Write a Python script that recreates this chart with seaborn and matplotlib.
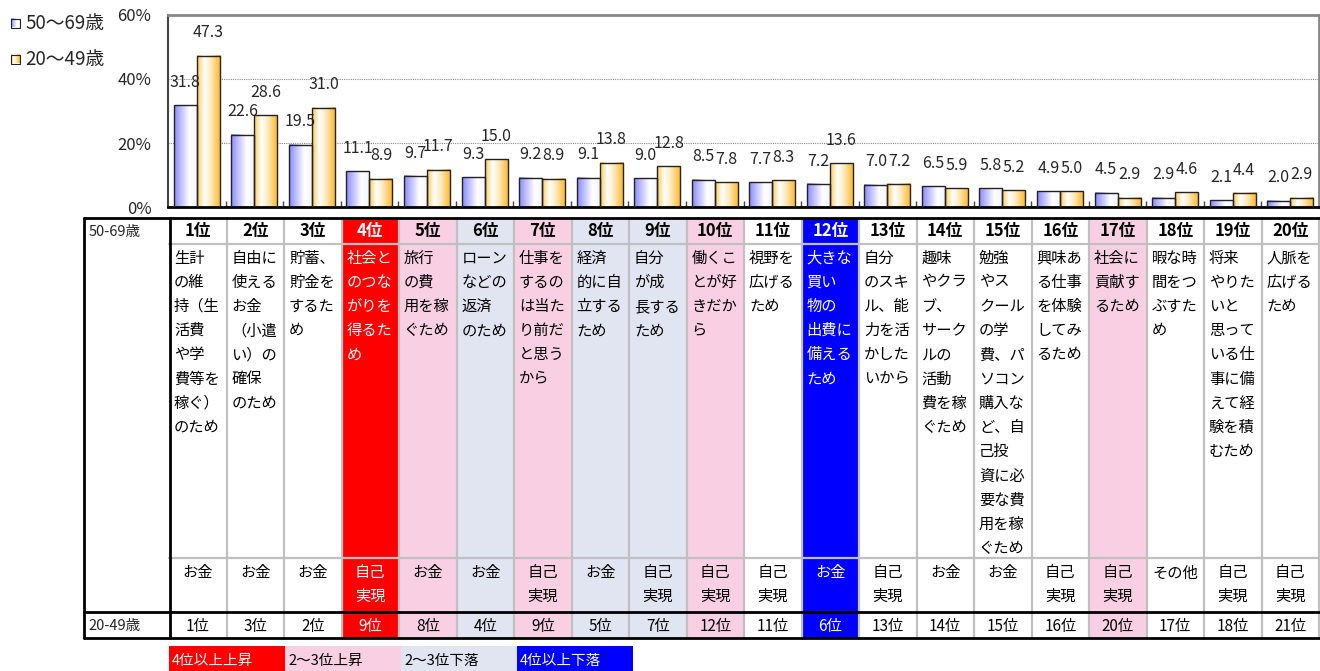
import numpy as np
import pandas as pd
import matplotlib
matplotlib.use("Agg")
import matplotlib.pyplot as plt
import seaborn as sns
from matplotlib.colors import LinearSegmentedColormap
from matplotlib.patches import Rectangle

# ---- data -------------------------------------------------------------
groups = ["50～69歳", "20～49歳"]
rank_50 = list(range(1, 21))
rank_20 = [1, 3, 2, 9, 8, 4, 9, 5, 7, 12, 11, 6, 13, 14, 15, 16, 20, 17, 18, 21]
values_50 = [31.8, 22.6, 19.5, 11.1, 9.7, 9.3, 9.2, 9.1, 9.0, 8.5,
             7.7, 7.2, 7.0, 6.5, 5.8, 4.9, 4.5, 2.9, 2.1, 2.0]
values_20 = [47.3, 28.6, 31.0, 8.9, 11.7, 15.0, 8.9, 13.8, 12.8, 7.8,
             8.3, 13.6, 7.2, 5.9, 5.2, 5.0, 2.9, 4.6, 4.4, 2.9]
reasons = [
    "生計\nの維\n持（生\n活費\nや学\n費等を\n稼ぐ）\nのため",
    "自由に\n使える\nお金\n（小遣\nい）の\n確保\nのため",
    "貯蓄、\n貯金を\nするた\nめ",
    "社会と\nのつな\nがりを\n得るた\nめ",
    "旅行\nの費\n用を稼\nぐため",
    "ローン\nなどの\n返済\nのため",
    "仕事を\nするの\nは当た\nり前だ\nと思う\nから",
    "経済\n的に自\n立する\nため",
    "自分\nが成\n長する\nため",
    "働くこ\nとが好\nきだか\nら",
    "視野を\n広げる\nため",
    "大きな\n買い\n物の\n出費に\n備える\nため",
    "自分\nのスキ\nル、能\n力を活\nかした\nいから",
    "趣味\nやクラ\nブ、\nサーク\nルの\n活動\n費を稼\nぐため",
    "勉強\nやス\nクール\nの学\n費、パ\nソコン\n購入な\nど、自\n己投\n資に必\n要な費\n用を稼\nぐため",
    "興味あ\nる仕事\nを体験\nしてみ\nるため",
    "社会に\n貢献す\nるため",
    "暇な時\n間をつ\nぶすた\nめ",
    "将来\nやりた\nいと\n思って\nいる仕\n事に備\nえて経\n験を積\nむため",
    "人脈を\n広げる\nため",
]
kinds = ["お金", "お金", "お金", "自己\n実現", "お金", "お金", "自己\n実現", "お金",
         "自己\n実現", "自己\n実現", "自己\n実現", "お金", "自己\n実現", "お金", "お金",
         "自己\n実現", "自己\n実現", "その他", "自己\n実現", "自己\n実現"]
change_labels = ["4位以上上昇", "2～3位上昇", "2～3位下落", "4位以上下落"]

# ---- style ------------------------------------------------------------
RED, PINK, LAV, BLUE = "#FF0000", "#F9D0E3", "#E1E5F1", "#0000FF"
change_colors = [RED, PINK, LAV, BLUE]
GRID = "#C0C0C0"


def change_color(r50, r20):
    d = r20 - r50
    if d >= 4:
        return RED
    if d >= 2:
        return PINK
    if d <= -4:
        return BLUE
    if d <= -2:
        return LAV
    return "white"


sns.set_style("white")
plt.rcParams["font.family"] = ["Noto Sans CJK JP", "DejaVu Sans"]

W, H = 1320, 671
fig = plt.figure(figsize=(W / 100, H / 100), dpi=100)

# overlay in pixel coordinates for table and legends
ov = fig.add_axes([0, 0, 1, 1])
ov.axis("off")

AX_L, AX_R, AX_T, AX_B = 168, 1319, 15, 207
TBL_L, COL0, TBL_R = 84, 169, 1320
cw = (AX_R - COL0) / 20
Y_TOP, Y_HEAD, Y_KIND, Y_R20, Y_BOT = 218, 244, 558, 612, 638

cmap_blue = LinearSegmentedColormap.from_list(
    "b", [(0, "#8A8AFF"), (0.65, "#FFFFFF"), (1, "#F2F2FF")])
cmap_orng = LinearSegmentedColormap.from_list(
    "o", [(0, "#FFC850"), (0.3, "#FFFFFF"), (0.6, "#FFE8B8"), (1, "#FFB41E")])
grad = np.linspace(0, 1, 64).reshape(1, -1)

for i in range(20):
    x0 = COL0 + i * cw
    col = change_color(rank_50[i], rank_20[i])
    tc = "white" if col in (RED, BLUE) else "black"
    if col != "white":
        ov.add_patch(Rectangle((x0, Y_TOP), cw, Y_BOT - Y_TOP, color=col, lw=0, zorder=1))
    ov.text(x0 + cw / 2, 231, f"{rank_50[i]}位", ha="center", va="center",
            fontsize=12, fontweight="bold", color=tc, zorder=5)
    for j, line in enumerate(reasons[i].split("\n")):
        ov.text(x0 + 5, 258 + j * 24.2, line, ha="left", va="center",
                fontsize=11, color=tc, zorder=5)
    for j, line in enumerate(kinds[i].split("\n")):
        ov.text(x0 + cw / 2, 573 + j * 23.5, line, ha="center", va="center",
                fontsize=11, color=tc, zorder=5)
    ov.text(x0 + cw / 2, 626, f"{rank_20[i]}位", ha="center", va="center",
            fontsize=11, color=tc, zorder=5)

# grey inner grid
for k in range(1, 21):
    xk = COL0 + k * cw
    ov.plot([xk, xk], [Y_TOP, Y_BOT], color=GRID, lw=1.6, zorder=3)
for yk in (Y_HEAD, Y_KIND):
    ov.plot([COL0, TBL_R], [yk, yk], color=GRID, lw=1.6, zorder=3)
# black frame lines
for yk in (Y_TOP, Y_R20, Y_BOT):
    ov.plot([TBL_L, TBL_R], [yk, yk], color="black", lw=2, zorder=4)
for xk in (TBL_L, COL0 + 1):
    ov.plot([xk, xk], [Y_TOP, Y_BOT], color="black", lw=2, zorder=4)

ov.text(89, 232, "50-69歳", ha="left", va="center", fontsize=10.5)
ov.text(88, 626, "20-49歳", ha="left", va="center", fontsize=10.5)

# bottom legend of rank changes
for i, (lab, col) in enumerate(zip(change_labels, change_colors)):
    lx = 169 + i * 116
    ov.add_patch(Rectangle((lx, 646), 116, H - 646, color=col, lw=0, zorder=1))
    ov.text(lx + 3, 661, lab, ha="left", va="center", fontsize=10.5,
            color="white" if col in (RED, BLUE) else "black", zorder=5)

# top-left series legend
for j, (g, cm) in enumerate(zip(groups, [cmap_blue, cmap_orng])):
    yc = 23 + j * 36
    ov.imshow(grad, extent=[11, 20, yc + 4.5, yc - 4.5], aspect="auto", cmap=cm, zorder=4)
    ov.add_patch(Rectangle((11, yc - 4.5), 9, 9, fill=False, ec="#222222", lw=0.8, zorder=5))
    ov.text(25, yc, g, ha="left", va="center", fontsize=13.5)

ov.set_xlim(0, W)
ov.set_ylim(H, 0)

# ---- bar chart --------------------------------------------------------
order = [f"{r}位" for r in rank_50]
df = pd.DataFrame({
    "rank": order * 2,
    "group": [groups[0]] * 20 + [groups[1]] * 20,
    "value": values_50 + values_20,
})

ax = fig.add_axes([AX_L / W, (H - AX_B) / H, (AX_R - AX_L) / W, (AX_B - AX_T) / H])
sns.barplot(data=df, x="rank", y="value", hue="group", order=order, hue_order=groups,
            width=0.8, saturation=1, legend=False, ax=ax,
            edgecolor="#222222", linewidth=1.0)

for cont, cm, vals in zip(ax.containers, [cmap_blue, cmap_orng], [values_50, values_20]):
    for bar, v in zip(cont, vals):
        x, w, h = bar.get_x(), bar.get_width(), bar.get_height()
        ax.imshow(grad, extent=[x, x + w, 0, h], aspect="auto", cmap=cm, zorder=2)
        bar.set_facecolor("none")
        bar.set_zorder(3)
        ax.annotate(f"{v:.1f}", (x + w / 2, h), xytext=(0, 16.5), textcoords="offset points",
                    ha="center", va="center", fontsize=11.5, zorder=6)

ax.set_xlim(-0.5, 19.5)
ax.set_ylim(0, 60)
ax.set_yticks([0, 20, 40, 60])
ax.set_yticklabels([f"{v}%" for v in [0, 20, 40, 60]], fontsize=12)
ax.set_xticks(np.arange(0.5, 19.5, 1))
ax.set_xticklabels([])
ax.set_xlabel("")
ax.set_ylabel("")
ax.tick_params(axis="x", direction="in", length=4, width=1, color="#444444", bottom=True)
ax.tick_params(axis="y", length=0, pad=12)
ax.yaxis.grid(True, linestyle=(0, (1, 1)), color="#888888", lw=0.8)
ax.set_axisbelow(True)
for s in ("top", "right"):
    ax.spines[s].set_color("#888888")
    ax.spines[s].set_linewidth(2)
ax.spines["left"].set_color("#444444")
ax.spines["left"].set_linewidth(1.5)
ax.spines["bottom"].set_color("black")
ax.spines["bottom"].set_linewidth(2)

fig.savefig("out.png", dpi=100)
